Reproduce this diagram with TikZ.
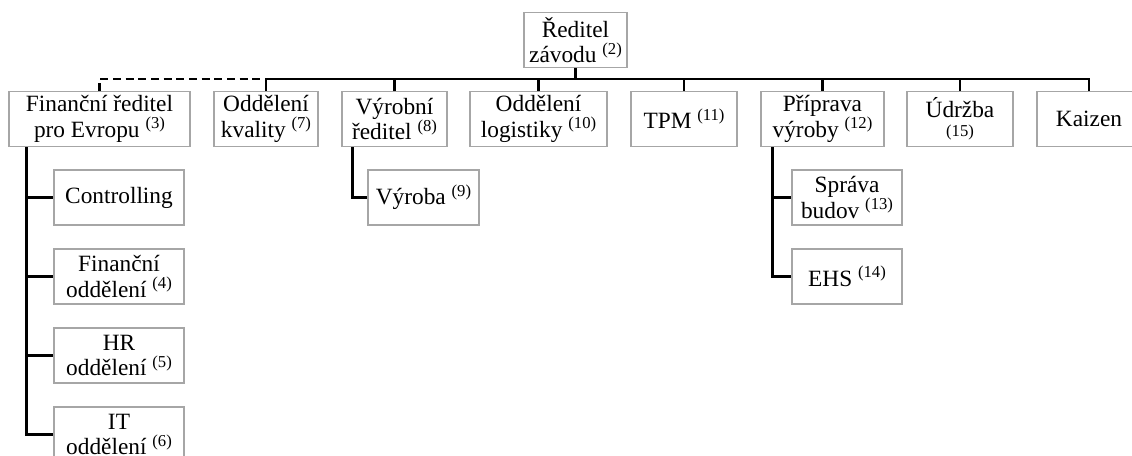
\documentclass[tikz,border=0pt]{standalone}
\usepackage{fontspec}
\setmainfont{Liberation Serif}
\newcommand{\idx}[1]{ \raisebox{.36em}{\fontsize{12.5}{12.5}\selectfont(#1)}}
\tikzset{
  unit/.style = {draw = black!35, line width = .9pt, align = center, minimum height = 41.25pt, inner sep = 1pt,
                 font = \fontsize{17.5}{19}\selectfont},
  boxw/.style = {unit, minimum width = #1*.75pt},
  link/.style = {line width = 2.1pt}
}

\begin{document}
\begin{tikzpicture}[x = .75pt, y = -.75pt]
                \useasboundingbox[clip] (0,0) rectangle (1132,456);
                \node[boxw = 103] (dir) at (575.5,40) {Ředitel\\závodu\idx{2}};
                \node[boxw = 181] (fin) at (99.5,119) {Finanční ředitel\\pro Evropu\idx{3}};
                \node[boxw = 104] (kval) at (266,119) {Oddělení\\kvality\idx{7}};
                \node[boxw = 105] (vyr) at (394.5,119) {Výrobní\\ředitel\idx{8}};
                \node[boxw = 137] (log) at (538.5,119) {Oddělení\\logistiky\idx{10}};
                \node[boxw = 106] (tpm) at (684,119) {TPM\idx{11}};
                \node[boxw = 123] (prip) at (822.5,119) {Příprava\\výroby\idx{12}};
                \node[boxw = 106] (udr) at (960,119) {Údržba\\[-5pt]{\fontsize{12.5}{12.5}\selectfont(15)}};
                \node[boxw = 104] (kai) at (1089,119) {Kaizen};
                \node[boxw = 130] (ctrl) at (119,197.5) {Controlling};
                \node[boxw = 130] (fodd) at (119,276.5) {Finanční\\oddělení\idx{4}};
                \node[boxw = 130] (hr) at (119,355.5) {HR\\oddělení\idx{5}};
                \node[boxw = 130] (it) at (119,434.5) {IT\\oddělení\idx{6}};
                \node[boxw = 111] (vyroba) at (423.5,197.5) {Výroba\idx{9}};
                \node[boxw = 110] (sprava) at (847,197.5) {Správa\\budov\idx{13}};
                \node[boxw = 110] (ehs) at (847,276.5) {EHS\idx{14}};
                \draw[link] (dir.south) -- ++(0,11) coordinate (bus);
                \draw[link] (kval.north) -- (kval.north |- bus) -- (kai.north |- bus) -- (kai.north);
                \foreach \n in {vyr, log, tpm, prip, udr}
                  \draw[link] (\n.north) -- (\n.north |- bus);
                \draw[link, dash pattern = on 6pt off 3.5pt] (fin.north) |- (kval.north |- bus);
                \foreach \n in {ctrl, fodd, hr, it}
                  \draw[link] (fin.south west) ++(18,0) |- (\n.west);
                \draw[link] (vyr.south west) ++(11,0) |- (vyroba.west);
                \foreach \n in {sprava, ehs}
                  \draw[link] (prip.south west) ++(12,0) |- (\n.west);
\end{tikzpicture}
\end{document}
